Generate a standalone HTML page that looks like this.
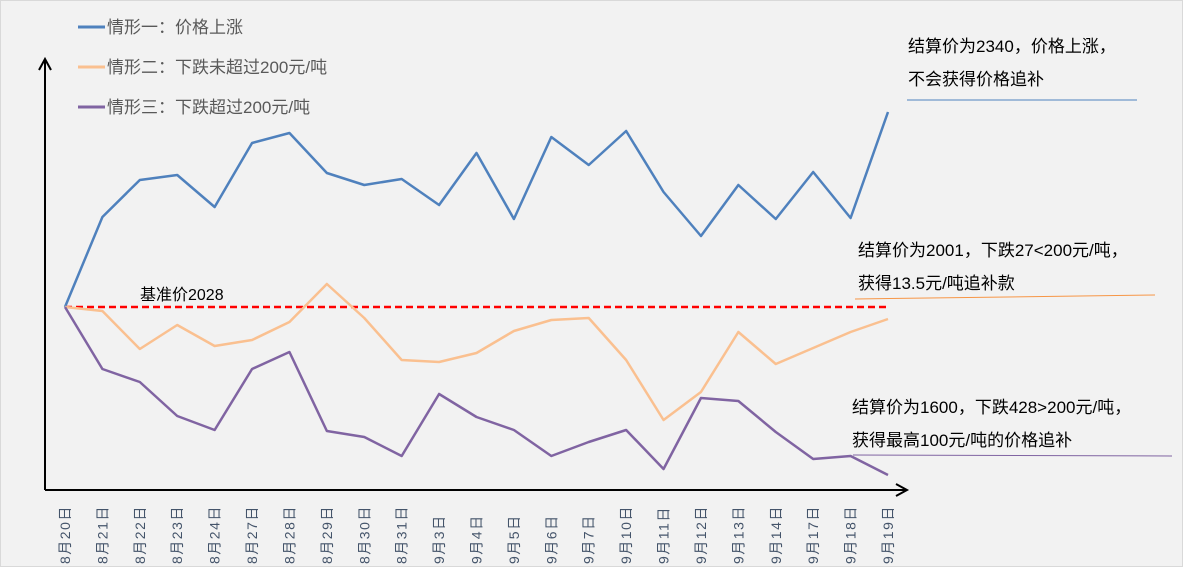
<!DOCTYPE html>
<html><head><meta charset="utf-8"><style>
body{margin:0;background:#fff}
svg{display:block;font-family:"Liberation Sans","Noto Sans CJK SC",sans-serif}
</style></head><body>
<svg id="c" width="1183" height="567">
<rect x="0.5" y="0.5" width="1182" height="566" fill="#f2f2f2" stroke="#d9d9d9"/>
<g id="g"></g>
</svg>
<script>
const categories=["8月20日","8月21日","8月22日","8月23日","8月24日","8月27日","8月28日","8月29日","8月30日","8月31日","9月3日","9月4日","9月5日","9月6日","9月7日","9月10日","9月11日","9月12日","9月13日","9月14日","9月17日","9月18日","9月19日"];
const seriesUp=[183,273,310,315,283,347,357,317,305,311,285,337,271,353,325,359,298,254,305,271,318,272,378];
const seriesSmallDrop=[183,179,141,165,144,150,168,206,172,130,128,137,159,170,172,130,70,98,158,126,142,158,171];
const seriesBigDrop=[183,121,108,74,60,121,138,59,53,34,96,73,60,34,48,60,21,92,89,58,31,34,15];
const baseline=183;
const seriesNames=["情形一：价格上涨","情形二：下跌未超过200元/吨","情形三：下跌超过200元/吨"];
const colors=["#4f81bd","#fac090","#8064a2"];
const NS="http://www.w3.org/2000/svg";
const g=document.getElementById('g');
const x0=65,x1=888;
function xs(i){return x0+i*(x1-x0)/(categories.length-1);}
function ys(v){return 490-v;}
function el(t,a){const e=document.createElementNS(NS,t);for(const k in a)e.setAttribute(k,a[k]);g.appendChild(e);return e;}
let e=el('path',{d:'M45,490 L45,60 M39,70 L45,59 L51,70',fill:'none',stroke:'#000','stroke-width':2});


e=el('path',{d:'M45,490 L906,490 M896,484 L907,490 L896,496',fill:'none',stroke:'#000','stroke-width':2});


categories.forEach((c,i)=>{
 const t=el('text',{x:0,y:0,'font-size':14,'letter-spacing':1.5,fill:'#44546a',transform:`translate(${xs(i)+5},564) rotate(-90)`});
 t.textContent=c;
 
 
});
e=el('line',{x1:xs(0),x2:xs(categories.length-1),y1:ys(baseline),y2:ys(baseline),stroke:'#ff0000','stroke-width':2.5,'stroke-dasharray':'7,4'});


e=el('text',{x:140,y:300,'font-size':16,fill:'#000'});e.textContent='基准价2028';


[seriesUp,seriesSmallDrop,seriesBigDrop].forEach((s,k)=>{
 const p=el('polyline',{points:s.map((v,i)=>xs(i)+','+ys(v)).join(' '),fill:'none',stroke:colors[k],'stroke-width':2.5,'stroke-linejoin':'round'});
 
 
 const ly=27+k*40;
 const l=el('line',{x1:78,x2:105,y1:ly,y2:ly,stroke:colors[k],'stroke-width':3});
 
 
 const t=el('text',{x:107,y:ly+6,'font-size':17,fill:'#595959'});t.textContent=seriesNames[k];
 
 
});
const notes=[[908,52,"结算价为2340，价格上涨，"],[908,85,"不会获得价格追补"],[858,256,"结算价为2001，下跌27<200元/吨，"],[858,289,"获得13.5元/吨追补款"],[852,413,"结算价为1600，下跌428>200元/吨，"],[852,446,"获得最高100元/吨的价格追补"]];
notes.forEach(n=>{const t=el('text',{x:n[0],y:n[1],'font-size':17,fill:'#000'});t.textContent=n[2];
 
 });
[[907,100,1137,100,colors[0]],[855,299,1155,295,'#f79646'],[853,455,1172,456,colors[2]]].forEach(a=>{
 const l=el('line',{x1:a[0],y1:a[1],x2:a[2],y2:a[3],stroke:a[4],'stroke-width':1});
 
 
});
</script>
</body></html>
